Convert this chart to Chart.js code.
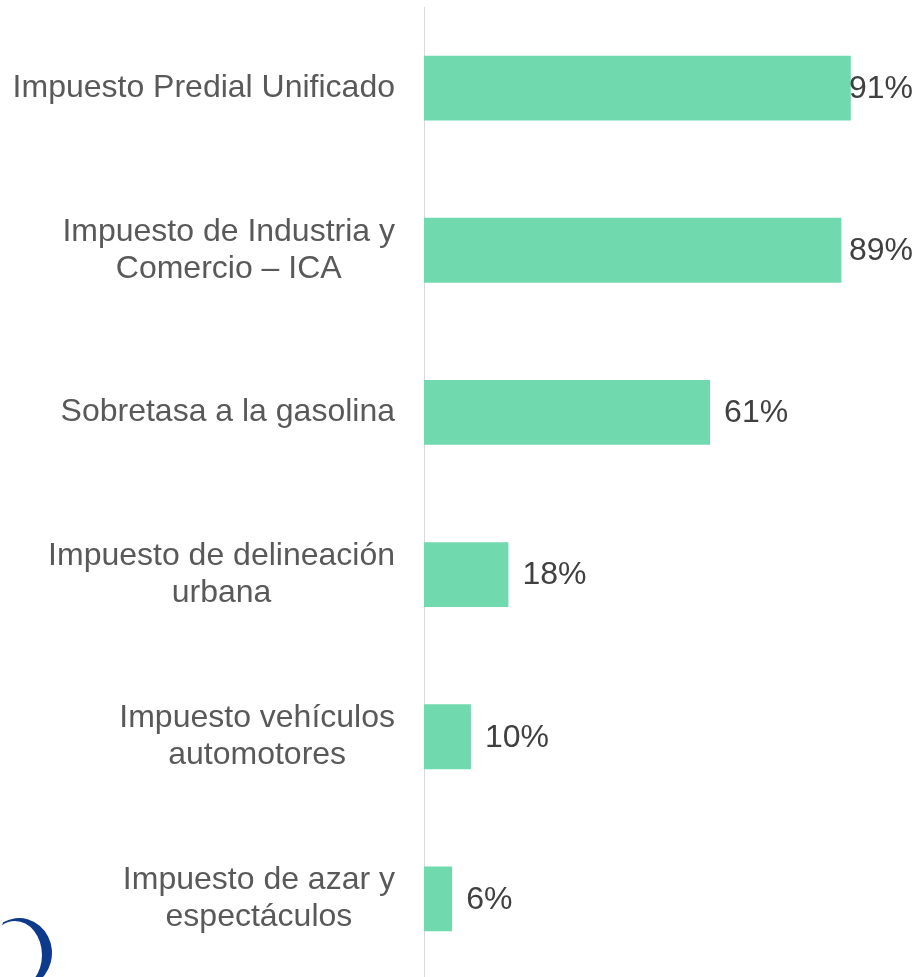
<!DOCTYPE html>
<html>
<head>
<meta charset="utf-8">
<script src="https://cdn.jsdelivr.net/npm/chart.js@4/dist/chart.umd.min.js"></script>
<style>
  html, body { margin: 0; padding: 0; background: #fff; overflow: hidden; }
  canvas { display: block; }
</style>
</head>
<body>
<canvas id="chart" width="919" height="980"></canvas>
<script>
// categorías (una línea por elemento)
const categories = [
  ["Impuesto Predial Unificado"],
  ["Impuesto de Industria y", "Comercio – ICA"],
  ["Sobretasa a la gasolina"],
  ["Impuesto de delineación", "urbana"],
  ["Impuesto vehículos", "automotores"],
  ["Impuesto de azar y", "espectáculos"]
];
const values = [91, 89, 61, 18, 10, 6];

const FONT = "32px Arial, 'Liberation Sans', sans-serif";

// etiquetas del eje, centradas entre sí y alineadas a la derecha como bloque
const categoryLabels = {
  id: "categoryLabels",
  afterDraw(chart) {
    const ctx = chart.ctx;
    const y = chart.scales.y;
    const right = chart.chartArea.left - 29;
    const lineH = 37;
    ctx.save();
    ctx.font = FONT;
    ctx.fillStyle = "#595959";
    ctx.textAlign = "center";
    ctx.textBaseline = "middle";
    categories.forEach((lines, i) => {
      const maxW = Math.max(...lines.map(l => ctx.measureText(l).width));
      const cx = right - maxW / 2;
      const cy = y.getPixelForValue(i);
      const start = cy - (lines.length - 1) * lineH / 2;
      lines.forEach((l, j) => ctx.fillText(l, cx, start + j * lineH));
    });
    ctx.restore();
  }
};

// valores al final de cada barra
const valueLabels = {
  id: "valueLabels",
  afterDatasetsDraw(chart) {
    const ctx = chart.ctx;
    const meta = chart.getDatasetMeta(0);
    ctx.save();
    ctx.font = FONT;
    ctx.fillStyle = "#404040";
    ctx.textAlign = "left";
    ctx.textBaseline = "middle";
    meta.data.forEach((bar, i) => {
      const txt = values[i] + "%";
      const w = ctx.measureText(txt).width;
      const x = Math.min(bar.x + 14, 913 - w);
      ctx.fillText(txt, x, bar.y + 1);
    });
    ctx.restore();
  }
};

// fragmento del logo abajo a la izquierda
const logoArc = {
  id: "logoArc",
  afterDraw(chart) {
    const ctx = chart.ctx;
    const a0 = -Math.PI / 2 - 0.5;
    ctx.save();
    ctx.fillStyle = "#0e3a8c";
    ctx.beginPath();
    ctx.ellipse(19, 953, 33, 35, 0, a0, Math.PI / 2, false);
    ctx.ellipse(15, 955, 27, 34, 0, Math.PI / 2, a0, true);
    ctx.closePath();
    ctx.fill();
    ctx.restore();
  }
};

new Chart(document.getElementById("chart"), {
  type: "bar",
  data: {
    labels: categories.map(c => c.join(" ")),
    datasets: [{
      data: values,
      backgroundColor: "#70d9ad",
      borderWidth: 0,
      categoryPercentage: 0.8,
      barPercentage: 0.5
    }]
  },
  options: {
    indexAxis: "y",
    responsive: false,
    animation: false,
    layout: { padding: { top: 7, right: 26, bottom: 0, left: 0 } },
    scales: {
      x: { display: false, min: 0, max: 100 },
      y: {
        grid: { display: false },
        border: { display: true, color: "#d9d9d9", width: 1 },
        ticks: { display: false },
        afterFit(scale) { scale.width = 424; }
      }
    },
    plugins: {
      legend: { display: false },
      tooltip: { enabled: false }
    }
  },
  plugins: [categoryLabels, valueLabels, logoArc]
});
</script>
</body>
</html>
